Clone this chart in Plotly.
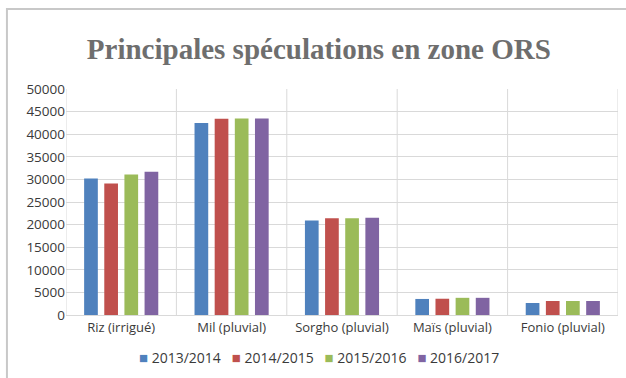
import plotly.graph_objects as go

categories = ["Riz (irrigué)", "Mil (pluvial)", "Sorgho (pluvial)", "Maïs (pluvial)", "Fonio (pluvial)"]
seasons = ["2013/2014", "2014/2015", "2015/2016", "2016/2017"]
v_2013_2014 = [30200, 42500, 20900, 3550, 2650]
v_2014_2015 = [29100, 43400, 21400, 3600, 3100]
v_2015_2016 = [31100, 43500, 21400, 3800, 3100]
v_2016_2017 = [31700, 43500, 21500, 3800, 3100]
series_values = [v_2013_2014, v_2014_2015, v_2015_2016, v_2016_2017]
colors = ["#4F81BD", "#C0504D", "#9BBB59", "#8064A2"]
y_ticks = list(range(0, 50001, 5000))

fig = go.Figure()
for name, vals, col in zip(seasons, series_values, colors):
    fig.add_trace(go.Bar(name=name, x=categories, y=vals, marker_color=col,
                         marker_line_width=0, showlegend=False))

# vertical separators between categories
shapes = []
for i in range(len(categories) + 1):
    shapes.append(dict(type="line", xref="x", yref="paper", x0=i - 0.5, x1=i - 0.5,
                       y0=0, y1=1, line=dict(color="#d9d9d9", width=1), layer="below"))
# outer chart frame
shapes.append(dict(type="rect", xref="paper", yref="paper", x0=-0.107, x1=1.08,
                   y0=-0.32, y1=1.354, line=dict(color="#c8c8c8", width=2)))

# compact legend: coloured square followed by the season label
legend_text = "&nbsp;&nbsp;&nbsp;".join(
    f"<span style='color:{c};font-size:15px'>■</span> {s}" for s, c in zip(seasons, colors))

fig.update_layout(
    width=626, height=378,
    margin=dict(l=66, r=8, t=89, b=63),
    paper_bgcolor="white", plot_bgcolor="white",
    barmode="group", bargap=0.27, bargroupgap=0.32,
    title=dict(text="<b>Principales spéculations en zone ORS</b>",
               font=dict(family="Liberation Serif", size=29, color="#6e6e6e"),
               x=0.458, xref="paper", xanchor="center", y=0.872, yanchor="middle"),
    xaxis=dict(showgrid=False, showline=True, linecolor="#d9d9d9",
               tickfont=dict(family="Open Sans", size=13, color="#3a3a3a"),
               ticks="", range=[-0.5, len(categories) - 0.5]),
    yaxis=dict(range=[0, 50000], tickvals=y_ticks, showgrid=True, gridcolor="#d9d9d9",
               zeroline=False, ticks="", tickformat="d",
               tickfont=dict(family="Open Sans", size=13.5, color="#3a3a3a")),
    annotations=[dict(text=legend_text, xref="paper", yref="paper",
                      x=0.458, xanchor="center", y=-0.186, yanchor="middle",
                      showarrow=False,
                      font=dict(family="Open Sans", size=14, color="#3a3a3a"))],
    shapes=shapes,
)

fig.write_html("out.html")
